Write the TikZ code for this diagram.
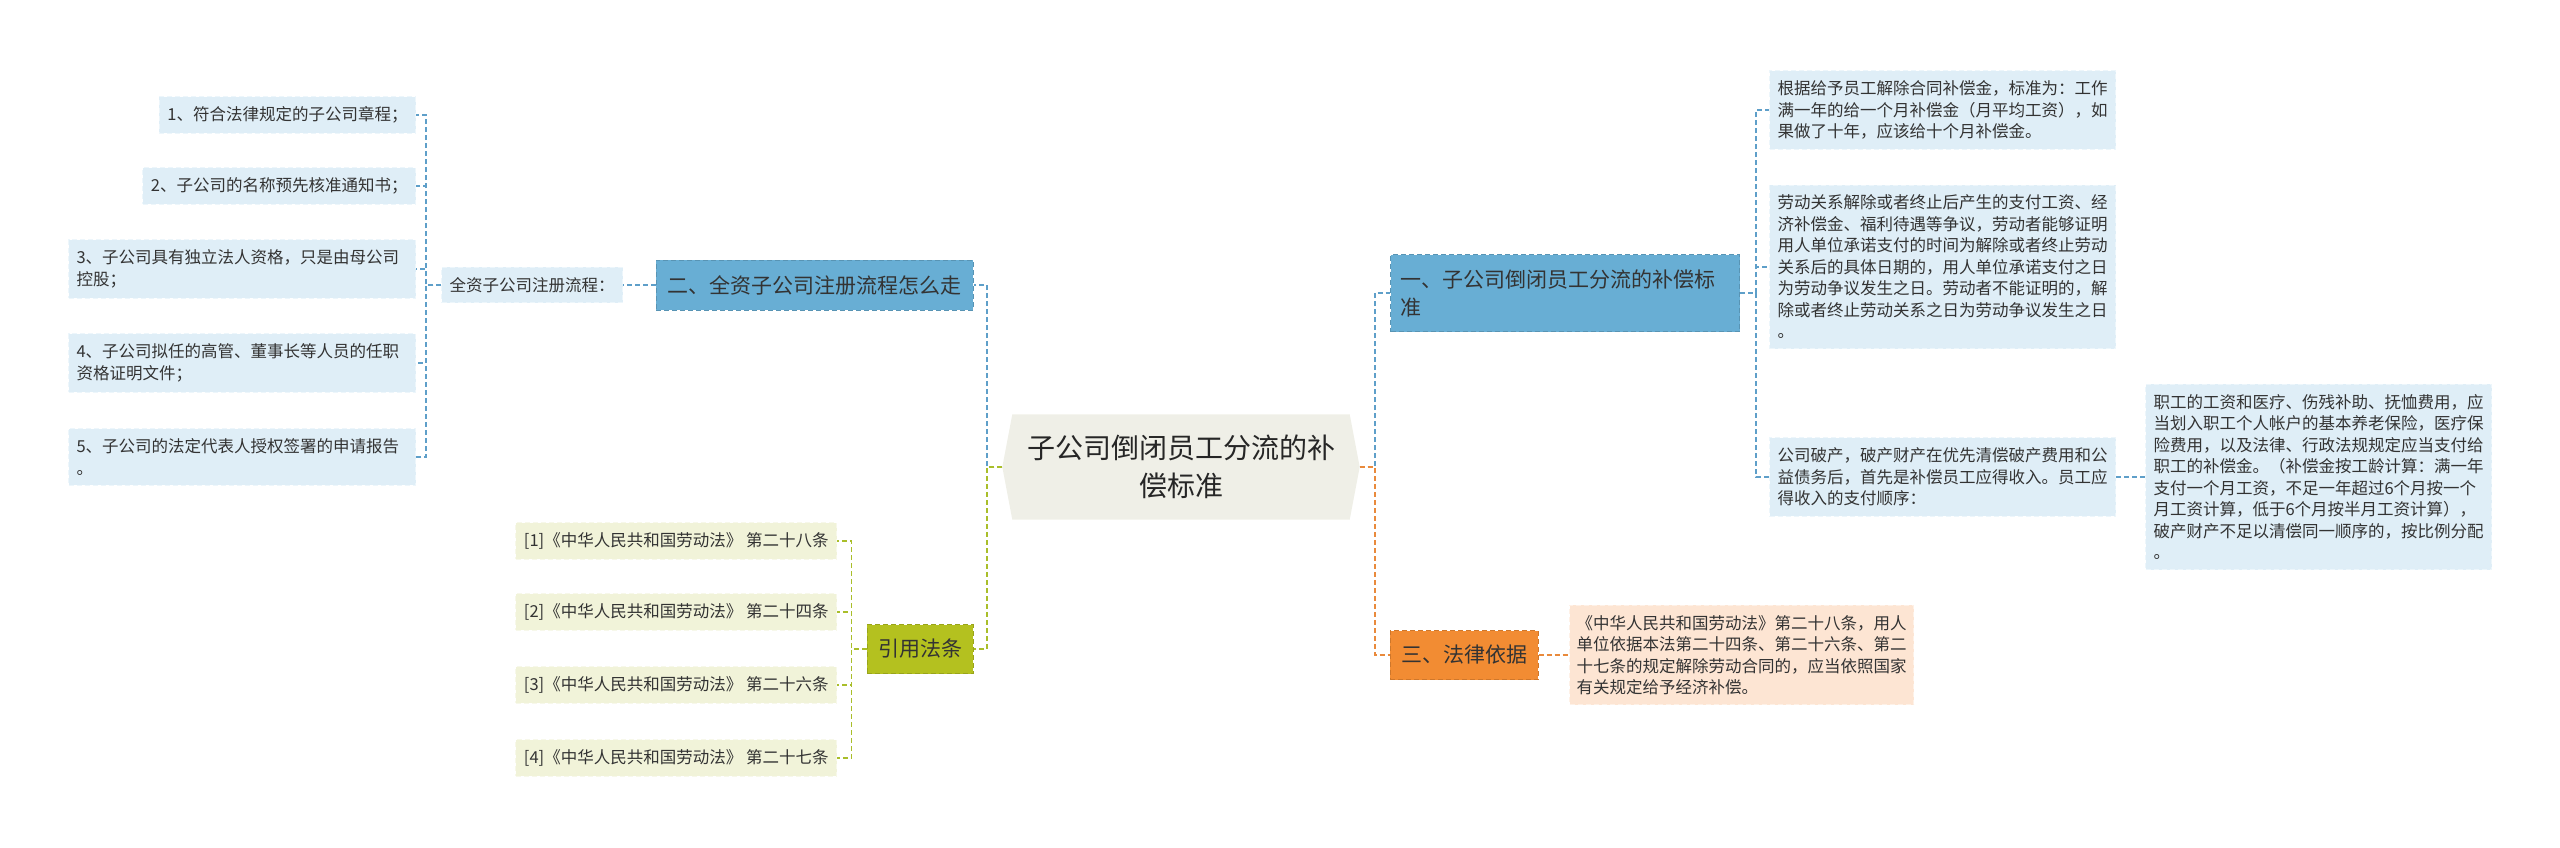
\documentclass[tikz,border=0pt]{standalone}
\usepackage{fontspec}
\setmainfont{Noto Sans CJK SC}
\usepackage{tikz}
\usetikzlibrary{calc, backgrounds}
\usepackage{xcolor}

\definecolor{rootfill}{HTML}{EFEFE7}
\definecolor{topicblue}{HTML}{68AED4}
\definecolor{leafblue}{HTML}{DFEEF7}
\definecolor{lineblue}{HTML}{5E9FC9}
\definecolor{topicgreen}{HTML}{B4C11F}
\definecolor{leafgreen}{HTML}{F1F3D9}
\definecolor{linegreen}{HTML}{A9BE2A}
\definecolor{topicorange}{HTML}{F28C33}
\definecolor{leaforange}{HTML}{FDE5D3}
\definecolor{lineorange}{HTML}{E98A3C}
\definecolor{inkgray}{HTML}{333333}

\begin{document}
\begin{tikzpicture}[x=1pt, y=-1pt,
    link/.style={dash pattern=on 5pt off 3pt, line width=1.5pt},
    mainlink/.style={dash pattern=on 5pt off 3pt, line width=2pt},
    leafbox/.style={fill=#1, draw=white!45!#1, dash pattern=on 5pt off 3pt, line width=1pt,
        inner xsep=8pt, inner ysep=10pt, align=left, text=inkgray,
        font=\fontsize{16.5pt}{21.5pt}\selectfont},
    topicbox/.style={fill=#1, draw=#1!85!black, dash pattern=on 5pt off 3pt, line width=1pt,
        inner xsep=11pt, inner ysep=8pt, align=left, text=inkgray,
        font=\fontsize{21pt}{28pt}\selectfont}]
    \useasboundingbox (0,0) rectangle (2560,847);

    % 中心主题
    \node[minimum width=357pt, minimum height=105pt, align=center, text=black!85,
        font=\fontsize{28pt}{38pt}\selectfont] (root) at (1181,467)
        {子公司倒闭员工分流的补\\偿标准};
    \begin{scope}[on background layer]
        \fill[rootfill] ($(root.north west)+(10,0)$) -- (root.west) -- ($(root.south west)+(10,0)$)
            -- ($(root.south east)+(-10,0)$) -- (root.east) -- ($(root.north east)+(-10,0)$) -- cycle;
    \end{scope}

    % 二、全资子公司注册流程怎么走
    \node[topicbox=topicblue, minimum width=317pt, minimum height=50pt] (zhuce) at (814.5,285)
        {二、全资子公司注册流程怎么走};
    \node[leafbox=leafblue] (liucheng) at (532,285) {全资子公司注册流程：};
    \node[leafbox=leafblue, anchor=east] (l1) at (416,115) {1、符合法律规定的子公司章程；};
    \node[leafbox=leafblue, anchor=east] (l2) at (416,186) {2、子公司的名称预先核准通知书；};
    \node[leafbox=leafblue, anchor=east, text width=331pt] (l3) at (416,269)
        {3、子公司具有独立法人资格，只是由母公司\\控股；};
    \node[leafbox=leafblue, anchor=east, text width=331pt] (l4) at (416,363)
        {4、子公司拟任的高管、董事长等人员的任职\\资格证明文件；};
    \node[leafbox=leafblue, anchor=east, text width=331pt] (l5) at (416,457)
        {5、子公司的法定代表人授权签署的申请报告\\。};

    % 引用法条
    \node[topicbox=topicgreen, minimum width=106pt, minimum height=49pt] (yinyong) at (920,649) {引用法条};
    \node[leafbox=leafgreen, anchor=east] (r1) at (837,541) {[1]《中华人民共和国劳动法》 第二十八条};
    \node[leafbox=leafgreen, anchor=east] (r2) at (837,612) {[2]《中华人民共和国劳动法》 第二十四条};
    \node[leafbox=leafgreen, anchor=east] (r3) at (837,685) {[3]《中华人民共和国劳动法》 第二十六条};
    \node[leafbox=leafgreen, anchor=east] (r4) at (837,758) {[4]《中华人民共和国劳动法》 第二十七条};

    % 一、子公司倒闭员工分流的补偿标准
    \node[topicbox=topicblue, anchor=west, text width=329pt, inner xsep=10pt, minimum height=77pt] (buchang) at (1390,293)
        {一、子公司倒闭员工分流的补偿标\\准};
    \node[leafbox=leafblue, anchor=west, text width=330pt] (c1) at (1769,110)
        {根据给予员工解除合同补偿金，标准为：工作\\满一年的给一个月补偿金（月平均工资），如\\果做了十年，应该给十个月补偿金。};
    \node[leafbox=leafblue, anchor=west, text width=330pt] (c2) at (1769,267)
        {劳动关系解除或者终止后产生的支付工资、经\\济补偿金、福利待遇等争议，劳动者能够证明\\用人单位承诺支付的时间为解除或者终止劳动\\关系后的具体日期的，用人单位承诺支付之日\\为劳动争议发生之日。劳动者不能证明的，解\\除或者终止劳动关系之日为劳动争议发生之日\\。};
    \node[leafbox=leafblue, anchor=west, text width=330pt] (c3) at (1769,477)
        {公司破产，破产财产在优先清偿破产费用和公\\益债务后，首先是补偿员工应得收入。员工应\\得收入的支付顺序：};
    \node[leafbox=leafblue, anchor=west, text width=330pt] (shunxu) at (2145,477)
        {职工的工资和医疗、伤残补助、抚恤费用，应\\当划入职工个人帐户的基本养老保险，医疗保\\险费用，以及法律、行政法规规定应当支付给\\职工的补偿金。（补偿金按工龄计算：满一年\\支付一个月工资，不足一年超过6个月按一个\\月工资计算，低于6个月按半月工资计算），\\破产财产不足以清偿同一顺序的，按比例分配\\。};

    % 三、法律依据
    \node[topicbox=topicorange, minimum width=148pt, minimum height=49pt] (yiju) at (1464,655) {三、法律依据};
    \node[leafbox=leaforange, anchor=west, text width=330pt, inner xsep=7pt] (falv) at (1569,655)
        {《中华人民共和国劳动法》第二十八条，用人\\单位依据本法第二十四条、第二十六条、第二\\十七条的规定解除劳动合同的，应当依照国家\\有关规定给予经济补偿。};

    % 连线
    \draw[mainlink, lineblue] (root.west) -- ++(-15,0) |- (zhuce.east);
    \draw[mainlink, linegreen] (root.west) -- ++(-15,0) |- (yinyong.east);
    \draw[mainlink, lineblue] (root.east) -- ++(15,0) |- (buchang.west);
    \draw[mainlink, lineorange] (root.east) -- ++(15,0) |- (yiju.west);

    \draw[link, lineblue] (zhuce.west) -- (liucheng.east);
    \foreach \i in {1,...,5}
        \draw[link, lineblue] (liucheng.west) -- ++(-15,0) |- (l\i.east);
    \foreach \i in {1,...,4}
        \draw[link, linegreen] (yinyong.west) -- ++(-15,0) |- (r\i.east);
    \foreach \i in {1,2,3}
        \draw[link, lineblue] (buchang.east) -- ++(16,0) |- (c\i.west);
    \draw[link, lineblue] (c3.east) -- (shunxu.west);
    \draw[link, lineorange] (yiju.east) -- (falv.west);
\end{tikzpicture}
\end{document}
